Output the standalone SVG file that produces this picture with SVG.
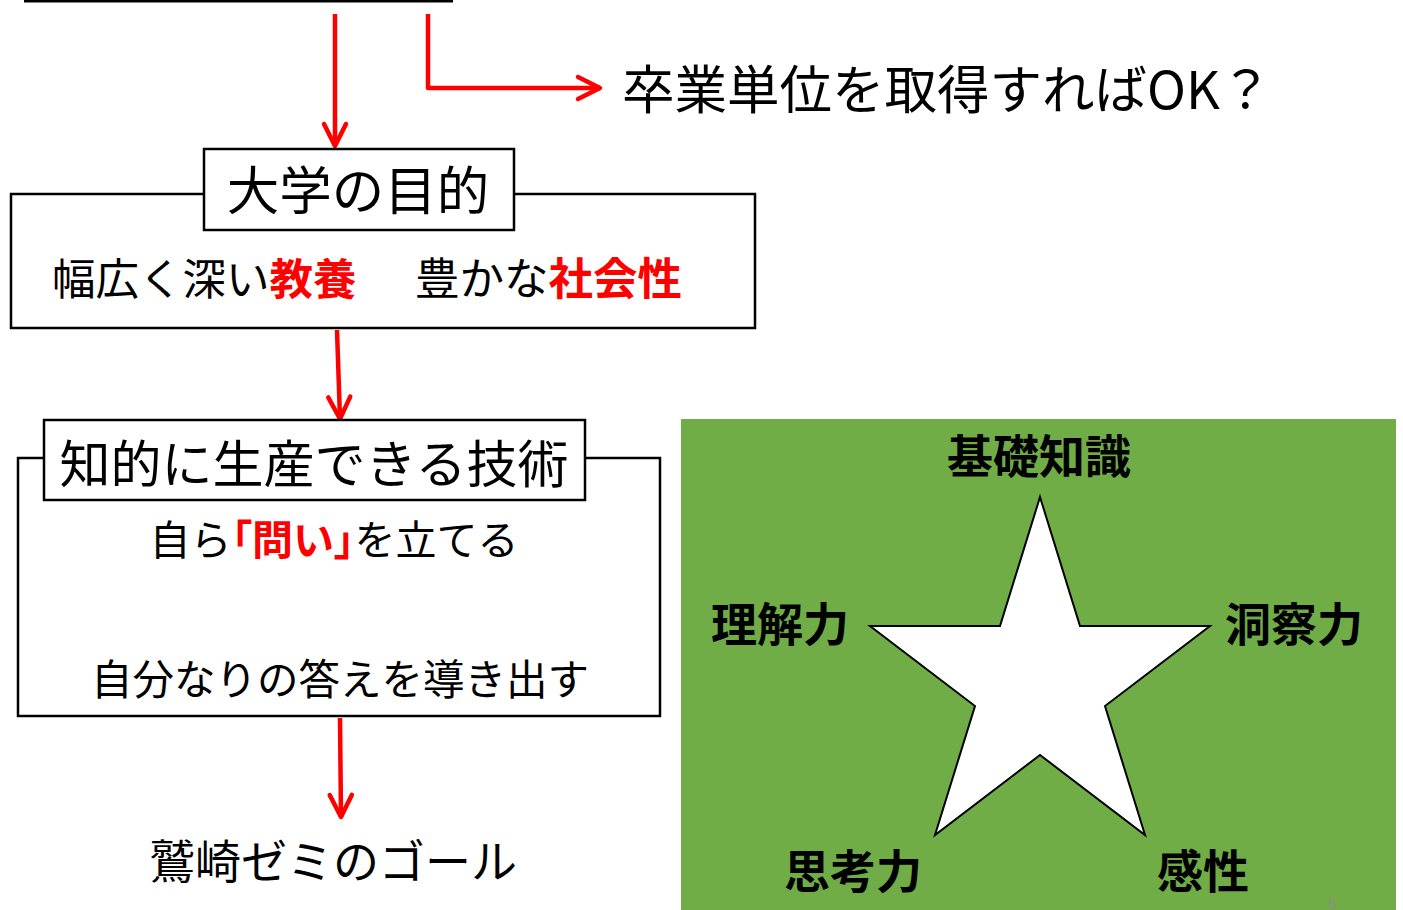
<svg xmlns="http://www.w3.org/2000/svg" width="1403" height="910" viewBox="0 0 1403 910">
<style>
.t{font-family:"Noto Sans CJK JP","Noto Sans",sans-serif;fill:#000}
.b{font-weight:bold}
.r{fill:#FF0000;font-weight:bold}
.p{font-feature-settings:"palt" 1}
.box{fill:#fff;stroke:#000;stroke-width:2.5}
.con{stroke:#FF0000;stroke-width:4.5;fill:none;stroke-linejoin:round}
</style>
<defs>
<marker id="ah" markerUnits="userSpaceOnUse" markerWidth="40" markerHeight="40" viewBox="-30 -20 40 40" refX="0" refY="0" orient="auto">
<path d="M-22,-11 L0,0 L-22,11" fill="none" stroke="#FF0000" stroke-width="4.5" stroke-linecap="round" stroke-linejoin="round"/>
</marker>
</defs>
<rect width="1403" height="910" fill="#fff"/>
<line x1="24" y1="1" x2="453" y2="1" stroke="#000" stroke-width="3"/>
<g id="connectors">
<line class="con" x1="335" y1="14" x2="335" y2="146" marker-end="url(#ah)"/>
<polyline class="con" points="428,14 428,88 600,88" marker-end="url(#ah)"/>
<line class="con" x1="337" y1="330" x2="340" y2="419" marker-end="url(#ah)"/>
<line class="con" x1="340" y1="578" x2="340" y2="634" marker-end="url(#ah)"/>
<line class="con" x1="340" y1="718" x2="341" y2="817" marker-end="url(#ah)"/>
</g>
<g id="node-question">
<text class="t" x="622" y="109" font-size="52.5">卒業単位を取得すればOK？</text>
</g>
<g id="node-purpose">
<rect class="box" x="11" y="194" width="744" height="134"/>
<rect class="box" x="204" y="149" width="310" height="81"/>
<text class="t" x="358" y="210" font-size="52.5" text-anchor="middle">大学の目的</text>
<text class="t" x="52" y="295" font-size="43.5">幅広く深い<tspan class="r">教養</tspan></text>
<text class="t" x="415" y="295" font-size="44.5">豊かな<tspan class="r">社会性</tspan></text>
</g>
<g id="node-skill">
<rect class="box" x="18" y="458" width="642" height="258"/>
<rect class="box" x="44" y="420" width="541" height="80"/>
<text class="t" x="314" y="483" font-size="51" text-anchor="middle">知的に生産できる技術</text>
<text class="t" x="334" y="555" font-size="41" text-anchor="middle">自ら<tspan class="r p">「</tspan><tspan class="r">問い</tspan><tspan class="r p">」</tspan>を立てる</text>
<text class="t" x="340" y="695" font-size="41.5" text-anchor="middle">自分なりの答えを導き出す</text>
</g>
<g id="node-goal">
<text class="t" x="333" y="878" font-size="46" text-anchor="middle">鷲崎ゼミのゴール</text>
</g>
<g id="node-star">
<rect x="681" y="419" width="715" height="491" fill="#70AD47"/>
<polygon points="1040,497 1080,626 1210,626 1105,706 1145,835 1040,755 935,835 975,706 870,626 1000,626" fill="#fff" stroke="#000" stroke-width="2"/>
<text class="t b" x="1039" y="473" font-size="46" text-anchor="middle">基礎知識</text>
<text class="t b" x="780" y="641" font-size="46" text-anchor="middle">理解力</text>
<text class="t b" x="1294" y="641" font-size="46" text-anchor="middle">洞察力</text>
<text class="t b" x="853" y="888" font-size="46" text-anchor="middle">思考力</text>
<text class="t b" x="1203" y="888" font-size="46" text-anchor="middle">感性</text>
<text x="1328" y="909" font-size="15" fill="#8C8C8C" font-family="Liberation Sans,sans-serif">5</text>
</g>
</svg>
